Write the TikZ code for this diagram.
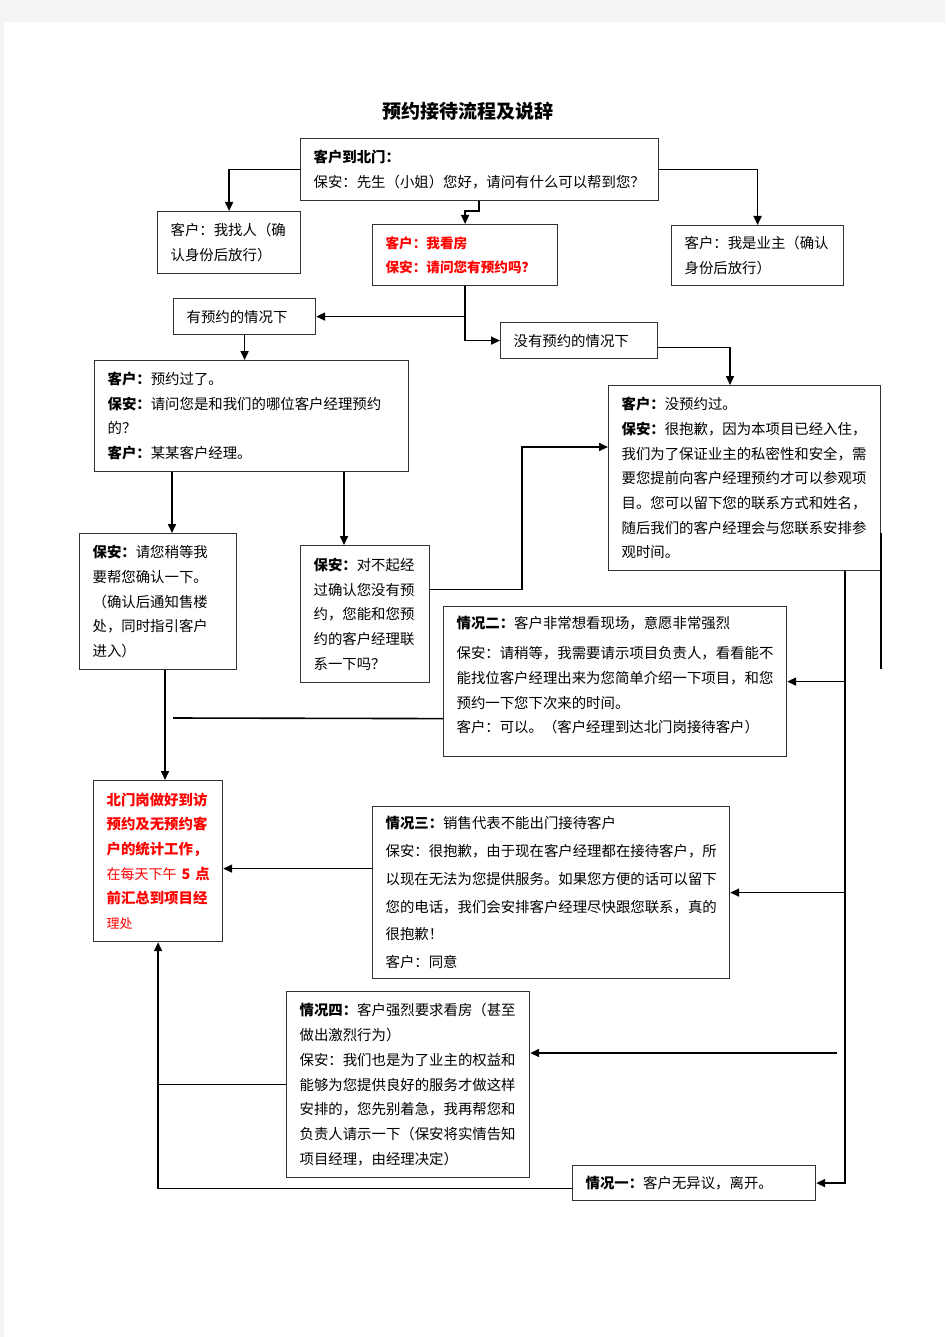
\documentclass[tikz,border=0pt]{standalone}
\usepackage{fontspec}
\setmainfont{Noto Sans CJK SC}
\usetikzlibrary{arrows.meta}
\definecolor{pagebg}{HTML}{F4F4F4}
\begin{document}
\begin{tikzpicture}[x=1pt,y=-1pt,
  box/.style={draw=black!80, line width=1.2pt, fill=white, anchor=north west, align=left,
    inner xsep=13pt, inner ysep=2pt, font=\fontsize{14.4}{24.7}\selectfont},
  redbox/.style={box, text=red, font=\bfseries\fontsize{14.4}{24.6}\selectfont},
  conn/.style={line width=1.6pt, draw=black},
  arr/.style={conn, -{Triangle[length=9pt,width=8pt]}}]

\fill[pagebg] (0,0) rectangle (945,1337);
\fill[white] (4,22) rectangle (945,1337);
\useasboundingbox (0,0) rectangle (945,1337);

\node[font=\bfseries\fontsize{19}{19}\selectfont] (title) at (468,111) {预约接待流程及说辞};

\node[box, text width=332pt, minimum height=62pt] (A) at (300,138)
  {\textbf{客户到北门：}\\保安：先生（小姐）您好，请问有什么可以帮到您？};
\node[box, text width=117pt, minimum height=62pt] (B) at (157,211)
  {客户：我找人（确\\认身份后放行）};
\node[box, text width=159pt, minimum height=61pt, text=red,
  font=\bfseries\fontsize{13.6}{24.5}\selectfont] (C) at (372,224)
  {客户：我看房\\保安：请问您有预约吗？};
\node[box, text width=146pt, minimum height=60pt] (D) at (671,225)
  {客户：我是业主（确认\\身份后放行）};
\node[box, text width=116pt, minimum height=36pt] (E) at (173,298) {有预约的情况下};
\node[box, text width=131pt, minimum height=36pt] (F) at (500,322) {没有预约的情况下};
\node[box, text width=288pt, minimum height=111pt] (G) at (94,360)
  {\textbf{客户：}预约过了。\\\textbf{保安：}请问您是和我们的哪位客户经理预约\\的？\\\textbf{客户：}某某客户经理。};
\node[box, text width=246pt, minimum height=185pt] (H) at (608,385)
  {\textbf{客户：}没预约过。\\\textbf{保安：}很抱歉，因为本项目已经入住，\\我们为了保证业主的私密性和安全，需\\要您提前向客户经理预约才可以参观项\\目。您可以留下您的联系方式和姓名，\\随后我们的客户经理会与您联系安排参\\观时间。};
\node[box, text width=131pt, minimum height=136pt] (I) at (79,533)
  {\textbf{保安：}请您稍等我\\要帮您确认一下。\\（确认后通知售楼\\处，同时指引客户\\进入）};
\node[box, text width=103pt, minimum height=137pt] (J) at (300,545)
  {\textbf{保安：}对不起经\\过确认您没有预\\约，您能和您预\\约的客户经理联\\系一下吗？};
\node[box, text width=317pt, minimum height=150pt] (K) at (443,606)
  {\textbf{情况二：}客户非常想看现场，意愿非常强烈\\[6pt]保安：请稍等，我需要请示项目负责人，看看能不\\能找位客户经理出来为您简单介绍一下项目，和您\\预约一下您下次来的时间。\\客户：可以。（客户经理到达北门岗接待客户）\\[-10pt]\mbox{}};
\node[redbox, text width=103pt, minimum height=161pt] (L) at (93,780)
  {北门岗做好到访\\预约及无预约客\\户的统计工作，\\\mbox{{\mdseries\fontsize{14}{24.6}\selectfont 在每天下午}\kern5pt 5\kern5pt 点}\\前汇总到项目经\\{\mdseries\fontsize{13}{24.6}\selectfont 理处}};
\node[box, text width=331pt, minimum height=172pt, font=\fontsize{14.4}{27.8}\selectfont] (M) at (372,806)
  {\textbf{情况三：}销售代表不能出门接待客户\\保安：很抱歉，由于现在客户经理都在接待客户，所\\以现在无法为您提供服务。如果您方便的话可以留下\\您的电话，我们会安排客户经理尽快跟您联系，真的\\很抱歉！\\客户：同意};
\node[box, text width=217pt, minimum height=186pt] (N) at (286,991)
  {\textbf{情况四：}客户强烈要求看房（甚至\\做出激烈行为）\\保安：我们也是为了业主的权益和\\能够为您提供良好的服务才做这样\\安排的，您先别着急，我再帮您和\\负责人请示一下（保安将实情告知\\项目经理，由经理决定）};
\node[box, text width=217pt, minimum height=35pt] (O) at (572,1165)
  {\textbf{情况一：}客户无异议，离开。};

% helper coordinates
\coordinate (x479) at (479,0);
\coordinate (x730) at (730,0);
\coordinate (x172) at (172,0);
\coordinate (x344) at (344,0);
\coordinate (x165) at (165,0);
\coordinate (x522) at (522,447);
\coordinate (x845) at (845,0);
\coordinate (k2) at (173,718);
\coordinate (n1) at (837,1053);
\coordinate (h1) at (881,533);
\coordinate (h2) at (881,669);
\coordinate (j1) at ([yshift=24.5pt]J.east);
\coordinate (m1) at ([yshift=24pt]M.west);
\coordinate (kk) at ([yshift=-37pt]K.west);
\coordinate (o1) at ([yshift=-5.5pt]O.west);
\coordinate (f1) at ([yshift=-7pt]F.east);

% connectors
\draw[arr] (A.west) -| (B.north);
\draw[arr] (A.south -| x479) -- ++(0,10) -| (C.north);
\draw[arr] (A.east) -| (D.north);
\draw[arr] (C.south) |- (F.west);
\draw[arr] (C.south |- E.east) -- (E.east);
\draw[arr] (E.south) -- (E.south |- G.north);
\draw[arr] (f1) -| (x730 |- H.north);
\draw[arr] (G.south -| x172) -- (x172 |- I.north);
\draw[arr] (G.south -| x344) -- (x344 |- J.north);
\draw[arr] (j1) -| (x522) -- (x522 -| H.west);
\draw[arr] (I.south -| x165) -- (x165 |- L.north);
\draw[conn] (kk) -- (k2);
\draw[arr] (H.south -| x845) |- (O.east);
\draw[arr] (x845 |- K.east) -- (K.east);
\draw[arr] (x845 |- M.east) -- (M.east);
\draw[arr] (n1) -- (n1 -| N.east);
\draw[arr] (m1) -- (m1 -| L.east);
\draw[arr] (N.west) -| (L.south);
\draw[conn] (o1) -| (L.south |- N.west);
\draw[conn, line width=1.2pt] (h1) -- (h2);
\end{tikzpicture}
\end{document}
